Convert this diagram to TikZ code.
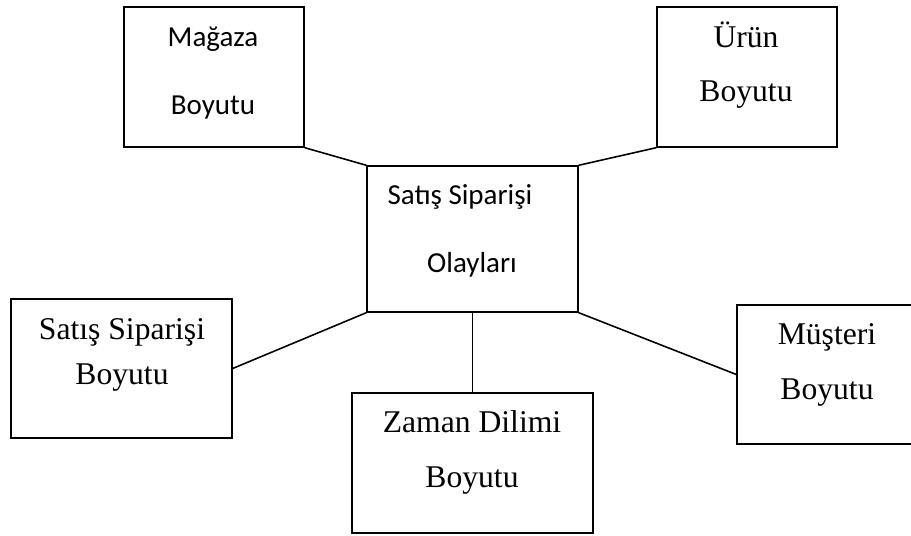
\documentclass[tikz,border=0pt]{standalone}
\usepackage{fontspec}
\setmainfont{Liberation Serif}
\newfontfamily\calibrifont{Carlito}
\usepackage{tikz}
\usetikzlibrary{positioning}

\tikzset{dimbox/.style={draw, line width=0.8pt, inner sep=0pt}}
\tikzset{link/.style={line width=0.9pt}}
\tikzset{serif/.style={anchor=base, inner sep=0pt, font=\fontsize{18}{20}\selectfont}}
\tikzset{sans/.style={anchor=base, inner sep=0pt, font=\calibrifont\fontsize{16.5}{19}\selectfont}}

\begin{document}
\begin{tikzpicture}

  \useasboundingbox (0,0) rectangle (18.22,10.72);

  % boxes
  \node[dimbox, minimum width=3.6cm, minimum height=2.8cm] (magaza) at (4.28,9.18) {};
  \node[dimbox, minimum width=3.6cm, minimum height=2.8cm] (urun) at (14.94,9.18) {};
  \node[dimbox, minimum width=4.22cm, minimum height=2.92cm] (olay) at (9.45,5.94) {};
  \node[dimbox, minimum width=4.42cm, minimum height=2.78cm] (satis) at (2.43,3.35) {};
  \node[dimbox, minimum width=4.82cm, minimum height=2.8cm] (zaman) at (9.45,1.46) {};
  \node[dimbox, minimum width=3.56cm, minimum height=2.78cm] (musteri) at (16.52,3.23) {};

  % texts
  \node[sans] (magazaA) at (4.26,9.78) {Mağaza};
  \node[sans] (magazaB) at (4.26,8.42) {Boyutu};
  \node[serif] (urunA) at (14.92,9.76) {Ürün};
  \node[serif] (urunB) at (14.92,8.68) {Boyutu};
  \node[sans] (olayA) at (9.20,6.62) {Satış Siparişi};
  \node[sans] (olayB) at (9.44,5.26) {Olayları};
  \node[serif] (satisA) at (2.44,3.92) {Satış Siparişi};
  \node[serif] (satisB) at (2.44,3.02) {Boyutu};
  \node[serif] (zamanA) at (9.44,2.06) {Zaman Dilimi};
  \node[serif] (zamanB) at (9.44,0.96) {Boyutu};
  \node[serif] (musteriA) at (16.54,3.82) {Müşteri};
  \node[serif] (musteriB) at (16.54,2.72) {Boyutu};

  % connectors
  \draw[link] (magaza.south east) -- (olay.north west);
  \draw[link] (urun.south west) -- (olay.north east);
  \draw[link] (olay.south west) -- (satis.east);
  \draw[link] (olay.south) -- (zaman.north);
  \draw[link] (olay.south east) -- (musteri.west);

\end{tikzpicture}
\end{document}
